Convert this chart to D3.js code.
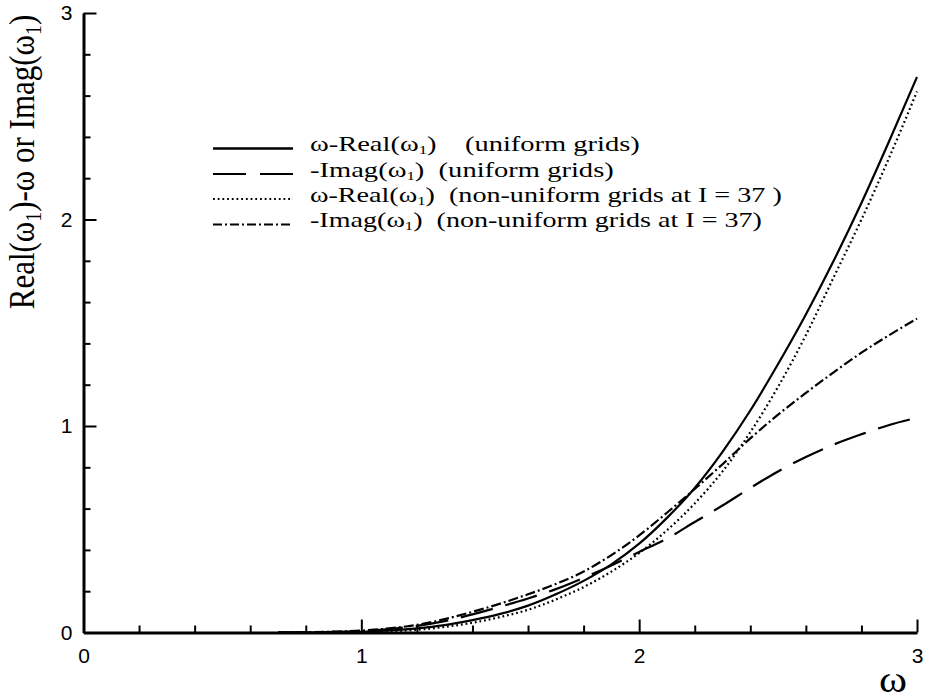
<!DOCTYPE html>
<html>
<head>
<meta charset="utf-8">
<script src="https://cdn.jsdelivr.net/npm/d3@7"></script>
<style>
  body { margin: 0; background: #fff; }
  svg text { white-space: pre; }
</style>
</head>
<body>
<svg id="chart" width="931" height="699"></svg>
<script>
// Frequency samples and the four growth / shift curves
const omega = [0.7,0.8,0.9,1.0,1.1,1.2,1.3,1.4,1.5,1.6,1.7,1.8,1.9,2.0,2.1,2.2,2.3,2.4,2.5,2.6,2.7,2.8,2.9,3.0];
const realUniform    = [0,0,0.001,0.003,0.01,0.02,0.036,0.06,0.09,0.13,0.185,0.25,0.33,0.43,0.555,0.70,0.875,1.075,1.30,1.54,1.80,2.08,2.38,2.69];
const imagUniform    = [0,0.001,0.003,0.008,0.017,0.032,0.055,0.088,0.125,0.165,0.21,0.265,0.325,0.39,0.455,0.535,0.615,0.70,0.78,0.85,0.91,0.96,1.005,1.04];
const realNonUniform = [0,0,0,0.002,0.006,0.013,0.027,0.047,0.075,0.11,0.16,0.22,0.295,0.385,0.495,0.625,0.78,0.97,1.19,1.44,1.72,2.0,2.30,2.62];
const imagNonUniform = [0,0.001,0.004,0.009,0.02,0.037,0.065,0.10,0.14,0.185,0.235,0.295,0.375,0.47,0.58,0.695,0.815,0.94,1.055,1.16,1.26,1.355,1.44,1.52];

// Legend text split as [before subscript, subscript, after subscript]
const legendLabels = [
  ["ω-Real(ω", "1", ")    (uniform grids)"],
  ["-Imag(ω", "1", ")  (uniform grids)"],
  ["ω-Real(ω", "1", ")  (non-uniform grids at I = 37 )"],
  ["-Imag(ω", "1", ")  (non-uniform grids at I = 37)"]
];
const majorTicks = [0, 1, 2, 3];
const minorTicks = [0.2,0.4,0.6,0.8,1.2,1.4,1.6,1.8,2.2,2.4,2.6,2.8];

const series = [realUniform, imagUniform, realNonUniform, imagNonUniform];
const dashes = [null, "33,13", "1.8,2.9", "10,3,2,3"];
const legendDashes = [null, "33,14", "1.8,2.9", "9,3,2,3"];

const svg = d3.select("#chart");
const x = d3.scaleLinear().domain([0, 3]).range([83.5, 917]);
const y = d3.scaleLinear().domain([0, 3]).range([632.5, 13]);
const sx = 1.15; // horizontal stretch of the serif lettering

// Curves
const line = d3.line()
  .x((d, i) => x(omega[i]))
  .y(d => y(d))
  .curve(d3.curveMonotoneX);

series.forEach((s, k) => {
  svg.append("path")
    .datum(s)
    .attr("d", line)
    .attr("fill", "none")
    .attr("stroke", "#000")
    .attr("stroke-width", 2.2)
    .attr("stroke-dasharray", dashes[k]);
});

// Axes: ticks point inward
function styleAxis(g) {
  g.select(".domain").attr("stroke", "#000").attr("stroke-width", 3);
  g.selectAll(".tick line").attr("stroke", "#000").attr("stroke-width", 2);
  g.selectAll(".tick text")
    .attr("fill", "#000")
    .style("font-family", "'Liberation Sans', Arial, sans-serif")
    .style("font-size", "21px");
}

svg.append("g").attr("transform", `translate(0,${y(0)})`)
  .call(d3.axisBottom(x).tickValues(minorTicks).tickSize(-7).tickSizeOuter(0).tickFormat(""))
  .call(g => g.select(".domain").remove())
  .call(styleAxis);
svg.append("g").attr("transform", `translate(${x(0)},0)`)
  .call(d3.axisLeft(y).tickValues(minorTicks).tickSize(-7).tickSizeOuter(0).tickFormat(""))
  .call(g => g.select(".domain").remove())
  .call(styleAxis);

svg.append("g").attr("transform", `translate(0,${y(0)})`)
  .call(d3.axisBottom(x).tickValues(majorTicks).tickSize(-13).tickSizeOuter(0).tickPadding(16).tickFormat(d3.format("d")))
  .call(styleAxis);
svg.append("g").attr("transform", `translate(${x(0)},0)`)
  .call(d3.axisLeft(y).tickValues(majorTicks).tickSize(-13).tickSizeOuter(0).tickPadding(11).tickFormat(d3.format("d")))
  .call(styleAxis);

// Serif text with a subscript "1"
function subText(g, parts, size, subSize, subDy) {
  const t = g.append("text")
    .style("font-family", "'Liberation Serif', 'Times New Roman', serif")
    .style("font-size", size + "px")
    .attr("fill", "#000");
  for (let i = 0; i < parts.length; i++) {
    if (i % 2 === 1) {
      t.append("tspan").attr("dy", subDy).style("font-size", subSize + "px").text(parts[i]);
    } else {
      const ts = t.append("tspan").text(parts[i]);
      if (i > 0) ts.attr("dy", -subDy);
    }
  }
  return t;
}

// Legend: each row is stretched to run from its left edge to its right edge
const rowY = [151, 176.5, 201.5, 227];
const rowLeft = 310;
const rowRight = [640, 614, 782, 762];
legendLabels.forEach((lab, i) => {
  svg.append("line")
    .attr("x1", 213).attr("x2", 293)
    .attr("y1", rowY[i] - 2.5).attr("y2", rowY[i] - 2.5)
    .attr("stroke", "#000")
    .attr("stroke-width", i === 0 ? 2.6 : 2.2)
    .attr("stroke-dasharray", legendDashes[i]);
  const g = svg.append("g");
  const t = subText(g, lab, 22, 13, 3);
  const len = t.node().getComputedTextLength();
  const k = (rowRight[i] - rowLeft) / len;
  g.attr("transform", `translate(${rowLeft},${rowY[i]}) scale(${k},1)`);
});

// Y-axis title
const yg = svg.append("g").attr("transform", `translate(34,162) scale(${sx},1) rotate(-90)`);
subText(yg, ["Real(ω", "1", ")-ω or Imag(ω", "1", ")"], 31, 20, 6).attr("text-anchor", "middle");

// X-axis title
svg.append("text")
  .attr("transform", `translate(893,692) scale(${sx},1)`)
  .attr("text-anchor", "middle")
  .style("font-family", "'Liberation Serif', 'Times New Roman', serif")
  .style("font-size", "37px")
  .attr("fill", "#000")
  .text("ω");
</script>
</body>
</html>
